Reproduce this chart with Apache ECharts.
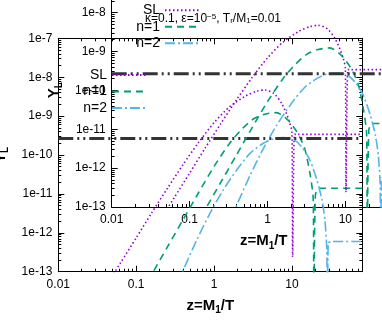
<!DOCTYPE html>
<html>
<head>
<meta charset="utf-8">
<script src="https://cdn.jsdelivr.net/npm/echarts@6/dist/echarts.min.js"></script>
<style>
html, body { margin: 0; padding: 0; background: #fff; }
#chart { width: 382px; height: 327px; }
</style>
</head>
<body>
<div id="chart"></div>
<script>
// values: z = M1/T and Y_L
var zSL = [0.0398, 0.0631, 0.1, 0.158, 0.251, 0.398, 0.631, 1.0, 1.585, 2.51, 3.55, 4.47, 5.88, 7.45, 9.02, 10.0, 10.2, 10.77, 11.6, 80];
var ySL = [3.9e-14, 1.7e-13, 7.4e-13, 3.24e-12, 1.38e-11, 5.6e-11, 2.09e-10, 6.8e-10, 1.74e-9, 3.24e-9, 4.37e-9, 4.68e-9, 3.8e-9, 2.05e-9, 8.4e-10, 3.7e-10, 2.4e-13, 3.4e-10, 3.4e-10, 3.4e-10];

var zN1 = [0.1, 0.158, 0.251, 0.398, 0.631, 1.0, 1.585, 2.24, 3.16, 4.47, 6.31, 8.63, 11.6, 14.5, 17.0, 18.75, 19.1, 20.0, 22.2, 80];
var yN1 = [1.7e-14, 8.5e-14, 4.27e-13, 2.14e-12, 1.07e-11, 5.1e-11, 2.0e-10, 4.47e-10, 8.3e-10, 1.12e-9, 1.23e-9, 8.4e-10, 3.9e-10, 1.51e-10, 3.4e-11, 7.4e-12, 1e-14, 9.3e-12, 1.4e-11, 1.4e-11];

var zN2 = [0.272, 0.393, 0.598, 0.885, 1.31, 1.95, 2.89, 4.29, 5.75, 7.73, 10.3, 13.4, 17.0, 20.9, 24.3, 26.5, 27.9, 28.6, 29.2, 32.4, 80];
var yN2 = [1.9e-14, 1.0e-13, 6.5e-13, 3.17e-12, 1.26e-11, 4.1e-11, 1.1e-10, 2.0e-10, 2.58e-10, 2.79e-10, 2.58e-10, 1.6e-10, 7.4e-11, 2.28e-11, 7.0e-12, 2.1e-12, 4.3e-13, 1e-14, 5.4e-13, 6.0e-13, 6.0e-13];

var zObs = [0.01, 80];
var yObs = [2.65e-10, 2.65e-10];

var seriesNames = ['SL', 'n=1', 'n=2'];
var xTicks = [0.01, 0.1, 1, 10];
var xTickText = ['0.01', '0.1', '1', '10'];
var yTicks = [1e-13, 1e-12, 1e-11, 1e-10, 1e-9, 1e-8, 1e-7];
var yTickText = ['1e-13', '1e-12', '1e-11', '1e-10', '1e-9', '1e-8', '1e-7'];
var paramText = 'κ=0.1, ε=10{sup|−5}, T{sub|r}/M{sub|1}=0.01';

var FONT = 'Liberation Sans';
var NARROW = '"Liberation Sans Narrow", "Liberation Sans"';

function pairs(xs, ys) {
    return xs.map(function (x, i) { return [x, ys[i]]; });
}

function tickText(ticks, texts) {
    return function (v) {
        for (var i = 0; i < ticks.length; i++) {
            if (Math.abs(Math.log10(v) - Math.log10(ticks[i])) < 1e-6) return texts[i];
        }
        return '';
    };
}

var nameStyle = {
    fontFamily: NARROW, fontSize: 15, fontWeight: 'bold', color: '#000', lineHeight: 20,
    rich: { s: { fontFamily: NARROW, fontSize: 10, fontWeight: 'bold', color: '#000', verticalAlign: 'bottom', lineHeight: 10 } }
};

function xAxisCfg(k, pos) {
    var main = pos === 'bottom';
    return {
        type: 'log', logBase: 10, min: 0.01, max: 80, gridIndex: k, position: pos,
        axisLine: { show: true, onZero: false, lineStyle: { color: '#000', width: 1 } },
        axisTick: { show: true, inside: true, length: 6, lineStyle: { color: '#000' } },
        minorTick: { show: true, splitNumber: 9, length: 3, lineStyle: { color: '#000' } },
        splitLine: { show: false },
        axisLabel: { show: main, formatter: tickText(xTicks, xTickText), color: '#000', fontFamily: FONT, fontSize: 12, margin: 7, showMaxLabel: false },
        name: main ? 'z=M{s|1}/T' : '', nameLocation: 'middle', nameGap: 22, nameTextStyle: nameStyle
    };
}

function yAxisCfg(k, pos) {
    var main = pos === 'left';
    return {
        type: 'log', logBase: 10, min: 1e-13, max: 1e-7, gridIndex: k, position: pos,
        axisLine: { show: true, onZero: false, lineStyle: { color: '#000', width: 1 } },
        axisTick: { show: true, inside: true, length: 6, lineStyle: { color: '#000' } },
        minorTick: { show: true, splitNumber: 9, length: 3, lineStyle: { color: '#000' } },
        splitLine: { show: false },
        axisLabel: { show: main, formatter: tickText(yTicks, yTickText), color: '#000', fontFamily: FONT, fontSize: 12, margin: 6 },
        name: main ? 'Y{s|L}' : '', nameLocation: 'middle', nameGap: 38, nameTextStyle: nameStyle
    };
}

var curves = [
    { name: 'SL', z: zSL, y: ySL, color: '#9400d3', dash: [1.5, 2.5] },
    { name: 'n=1', z: zN1, y: yN1, color: '#009e73', dash: [7, 5] },
    { name: 'n=2', z: zN2, y: yN2, color: '#56b4e9', dash: [10, 3, 2, 3] }
];

// the same figure drawn twice, the second copy shifted up and right
var panels = [
    { left: 58.3, top: 38.3, legendRight: 234, legendTop: 68 },
    { left: 111.7, top: -26.4, legendRight: 181, legendTop: 3.3 }
];
var W = 304, H = 233.4;

var option = {
    animation: false,
    backgroundColor: '#fff',
    grid: [], xAxis: [], yAxis: [], series: [], legend: [],
    title: [{
        text: paramText, left: 145, top: 13, padding: 0,
        textStyle: {
            fontFamily: NARROW, fontSize: 12, fontWeight: 'normal', color: '#000',
            rich: {
                sup: { fontFamily: NARROW, fontSize: 8, color: '#000', verticalAlign: 'top' },
                sub: { fontFamily: NARROW, fontSize: 8, color: '#000', verticalAlign: 'bottom' }
            }
        }
    }]
};

panels.forEach(function (p, k) {
    option.grid.push({ left: p.left, top: p.top, width: W, height: H, containLabel: false, outerBoundsMode: 'none' });
    option.xAxis.push(xAxisCfg(k, 'bottom'), xAxisCfg(k, 'top'));
    option.yAxis.push(yAxisCfg(k, 'left'), yAxisCfg(k, 'right'));

    curves.forEach(function (c) {
        option.series.push({
            name: c.name, type: 'line', xAxisIndex: 2 * k, yAxisIndex: 2 * k,
            data: pairs(c.z, c.y), symbol: 'none', smooth: 0.25, clip: true,
            color: c.color,
            lineStyle: { color: c.color, width: 1.6, type: c.dash }
        });
    });
    option.series.push({
        name: 'observed', type: 'line', xAxisIndex: 2 * k, yAxisIndex: 2 * k,
        data: pairs(zObs, yObs), symbol: 'none', clip: true, z: 3,
        lineStyle: { color: '#333', width: 3, type: [15, 4, 2, 4, 2, 4] }
    });

    option.legend.push({
        data: seriesNames, orient: 'vertical', align: 'right',
        right: p.legendRight, top: p.legendTop, padding: 0,
        itemWidth: 35, itemHeight: 14, itemGap: 2.5, selectedMode: false,
        itemStyle: { opacity: 0 },
        textStyle: { fontFamily: NARROW, fontSize: 14, color: '#000' }
    });
});

var chart = echarts.init(document.getElementById('chart'), null, { renderer: 'canvas' });
chart.setOption(option);
</script>
</body>
</html>
